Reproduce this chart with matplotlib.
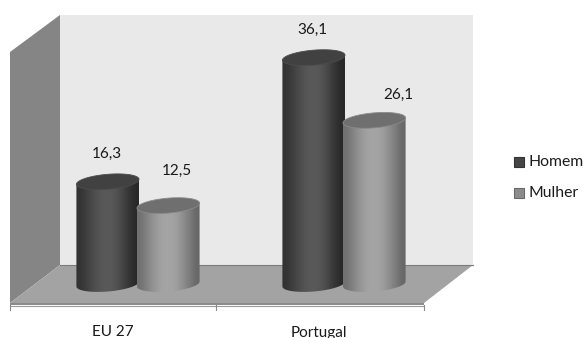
import numpy as np
import matplotlib.pyplot as plt
from matplotlib.patches import Polygon, PathPatch, Rectangle
from matplotlib.path import Path

plt.rcParams['font.family'] = ['Lato', 'DejaVu Sans']

categories = ['EU 27', 'Portugal']
homem = [16.3, 36.1]
mulher = [12.5, 26.1]
value_labels_homem = ['16,3', '36,1']
value_labels_mulher = ['12,5', '26,1']

W, H = 583, 338
X0, X_STEP = 138, 206    # pixel centre of first category, pixels per category
Y0, Y_STEP = 284, 6.27   # pixel of value 0, pixels per unit

fig = plt.figure(figsize=(W / 100, H / 100), dpi=100)

# Walls and floor live on a plain pixel-sized axes behind the data
frame = fig.add_axes([0, 0, 1, 1])
frame.set_xlim(0, W)
frame.set_ylim(H, 0)
frame.axis('off')

frame.add_patch(Polygon([(60, 15), (473, 15), (473, 265), (60, 265)], fc='#e9e9e9', ec='none'))
frame.add_patch(Polygon([(10, 52), (60, 15), (60, 265), (10, 303)], fc='#858585', ec='none'))
frame.add_patch(Polygon([(10, 303), (60, 265), (473, 265), (424, 303)], fc='#a3a3a3', ec='none'))
frame.add_patch(Polygon([(10, 303), (424, 303), (424, 305), (10, 305)], fc='#8c8c8c', ec='none'))
frame.plot([60, 473], [265, 265], color='#7c7c7c', lw=0.8)
frame.plot([10, 424], [305.5, 305.5], color='#9a9a9a', lw=0.8)
for tx in [10, 216, 424]:
    frame.plot([tx, tx], [305, 310], color='#8a8a8a', lw=0.8)

# Data axes share the figure, scaled so the bars come straight from the values
ax = fig.add_axes([0, 0, 1, 1])
ax.patch.set_alpha(0)
ax.axis('off')
xlim = ((0 - X0) / X_STEP, (W - X0) / X_STEP)
ylim = ((Y0 - H) / Y_STEP, Y0 / Y_STEP)

BAR_W = 0.152
BAR_B = 7.5 / Y_STEP
BAR_K = 2.5 / Y_STEP


def cylinder(cx, value, shades, top_color, edge):
    t = np.linspace(np.pi, 2 * np.pi, 40)
    lower = np.column_stack([cx + BAR_W * np.cos(t),
                             BAR_B * np.sin(t) + BAR_K * np.cos(t)])
    t2 = np.linspace(0, np.pi, 40)
    upper = np.column_stack([cx + BAR_W * np.cos(t2),
                             value + BAR_K * np.cos(t2)])
    body = np.vstack([lower, upper, lower[:1]])
    clip = PathPatch(Path(body), transform=ax.transData, fc='none', ec='none')
    ax.add_patch(clip)
    img = ax.imshow(np.array(shades)[None, :], cmap='gray', vmin=0, vmax=255,
                    extent=(cx - BAR_W, cx + BAR_W, -2, value + 2),
                    aspect='auto', interpolation='bicubic')
    img.set_clip_path(clip)
    t3 = np.linspace(0, 2 * np.pi, 80)
    top = np.column_stack([cx + BAR_W * np.cos(t3),
                           value + BAR_B * np.sin(t3) + BAR_K * np.cos(t3)])
    ax.add_patch(Polygon(top, fc=top_color, ec=edge, lw=0.6))


dark = [50, 62, 76, 86, 90, 86, 72, 54, 40]
light = [112, 132, 150, 162, 166, 160, 144, 124, 102]

for i, v in enumerate(homem):
    cylinder(i - 0.147, v, dark, '#414141', '#4c4c4c')
for i, v in enumerate(mulher):
    cylinder(i + 0.147, v, light, '#6f6f6f', '#8a8a8a')

# Value labels sit at their own distance above each cap
offs_h = [(-0.15, 28.0), (-0.155, 28.0)]
offs_m = [(0.19, 35.0), (0.265, 25.0)]
for i, (v, s) in enumerate(zip(homem, value_labels_homem)):
    ax.text(i + offs_h[i][0], v + offs_h[i][1] / Y_STEP, s, ha='center', va='center',
            fontsize=11, color='#1a1a1a')
for i, (v, s) in enumerate(zip(mulher, value_labels_mulher)):
    ax.text(i + offs_m[i][0], v + offs_m[i][1] / Y_STEP, s, ha='center', va='center',
            fontsize=11, color='#1a1a1a')

for i, c in enumerate(categories):
    ax.text(i - 0.12, -48.5 / Y_STEP, c, ha='center', va='center',
            fontsize=11, color='#1a1a1a')

ax.set_xlim(*xlim)
ax.set_ylim(*ylim)

# Legend
for ly, name, fc, ec in [(162, 'Homem', '#454545', '#333333'), (193, 'Mulher', '#8b8b8b', '#6a6a6a')]:
    frame.add_patch(Rectangle((513.5, ly - 5), 10, 10, fc=fc, ec=ec, lw=0.8))
    frame.text(528, ly, name, ha='left', va='center', fontsize=11.3, color='#1a1a1a')

fig.savefig('out.png', dpi=100)
